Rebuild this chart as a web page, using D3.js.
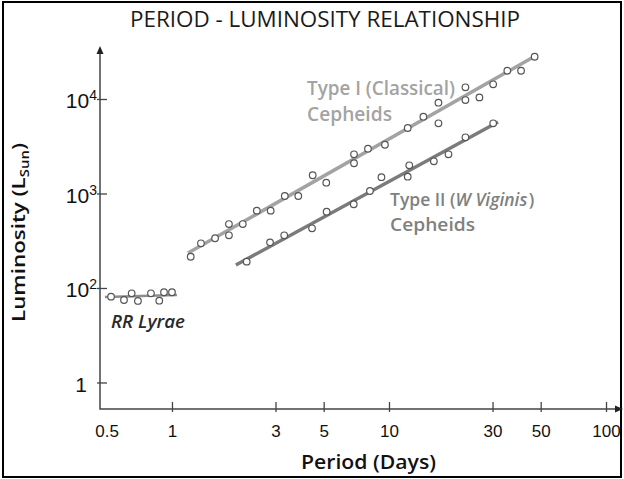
<!DOCTYPE html>
<html>
<head>
<meta charset="utf-8">
<script src="https://cdn.jsdelivr.net/npm/d3@7"></script>
<style>
  body { margin: 0; background: #fff; }
  svg { display: block; font-family: "Open Sans", "Noto Sans", sans-serif; }
</style>
</head>
<body>
<svg width="624" height="479"></svg>
<script>
// period-luminosity data
var periodTicks = [0.5, 1, 3, 5, 10, 30, 50, 100];
var lumTicks = [10, 100, 1000, 10000];
var lumTickLabels = [['1', ''], ['10', '2'], ['10', '3'], ['10', '4']];

var rrPeriod = [0.524, 0.601, 0.652, 0.697, 0.800, 0.874, 0.919, 1.0];
var rrLum = [81, 74.6, 87.9, 72.9, 87.9, 73.4, 90.1, 90.1];
var rrFit = [[0.491, 80.3], [1.054, 84.3]];

var type1Period = [1.22, 1.36, 1.58, 1.83, 1.83, 2.12, 2.46, 2.85, 3.31, 3.82, 4.45, 5.14, 6.9, 6.9, 8.0, 9.58,
  12.2, 14.4, 16.9, 16.9, 22.5, 22.5, 26.1, 30.2, 35.1, 40.6, 46.9];
var type1Lum = [214, 297, 336, 475, 361, 475, 658, 658, 941, 941, 1560, 1300, 2600, 2090, 2980, 3280,
  4930, 6500, 9140, 5530, 13300, 9750, 10400, 14300, 19900, 19900, 28000];
var type1Fit = [[1.185, 234], [48.1, 29200]];

var type2Period = [2.21, 2.83, 3.29, 4.42, 5.16, 6.88, 8.17, 9.23, 12.2, 12.4, 16.1, 18.8, 22.5, 30.2];
var type2Lum = [190, 304, 361, 428, 642, 769, 1062, 1488, 1506, 1988, 2192, 2600, 3930, 5530];
var type2Fit = [[1.97, 175], [31.8, 5710]];

var svg = d3.select('svg');

// frame
svg.append('rect')
  .attr('x', 3).attr('y', 2).attr('width', 618).attr('height', 475)
  .attr('fill', 'none').attr('stroke', '#000').attr('stroke-width', 2);

var x = d3.scaleLog().domain([0.466, 116]).range([100, 620]);
var y = d3.scaleLog().domain([5.24, 33000]).range([409, 50]);

var axisColor = '#444';

// x axis
var gx = svg.append('g').attr('transform', 'translate(0,409)')
  .call(d3.axisBottom(x).tickValues(periodTicks).tickFormat(d3.format('')).tickSize(0).tickPadding(16));
gx.select('.domain').remove();
gx.selectAll('.tick line').attr('y1', -7).attr('y2', 3).attr('stroke', axisColor).attr('stroke-width', 1.3);
gx.selectAll('.tick text').attr('font-size', 17).attr('fill', '#111').attr('font-family', null);
gx.selectAll('.tick').filter(function(d) { return d === 0.5; }).select('line').remove();

// y axis
var gy = svg.append('g').attr('transform', 'translate(100,0)')
  .call(d3.axisLeft(y).tickValues(lumTicks).tickSize(0).tickPadding(3));
gy.select('.domain').remove();
gy.selectAll('.tick line').attr('x1', -3).attr('x2', 7).attr('stroke', axisColor).attr('stroke-width', 1.3);
gy.selectAll('.tick text').each(function(d, i) {
  var lab = lumTickLabels[i];
  var t = d3.select(this).text('').attr('font-size', 21).attr('fill', '#111').attr('font-family', null)
    .attr('dy', '0.42em');
  if (!lab[1]) t.attr('x', -13);
  t.append('tspan').text(lab[0]);
  if (lab[1]) t.append('tspan').attr('font-size', 14).attr('dy', -8).text(lab[1]);
});

// axis lines with arrows
svg.append('path')
  .attr('d', 'M100,52 V409 H617')
  .attr('fill', 'none').attr('stroke', axisColor).attr('stroke-width', 1.5);
svg.append('path').attr('d', 'M100,46 L96.5,54 L103.5,54 Z').attr('fill', '#222');
svg.append('path').attr('d', 'M623,409 L615,405.5 L615,412.5 Z').attr('fill', '#222');

// fit lines
var line = d3.line().x(function(d) { return x(d[0]); }).y(function(d) { return y(d[1]); });
svg.append('path').attr('d', line(type1Fit)).attr('stroke', '#a3a3a3').attr('stroke-width', 3.5).attr('fill', 'none');
svg.append('path').attr('d', line(type2Fit)).attr('stroke', '#7b7b7b').attr('stroke-width', 3.5).attr('fill', 'none');
svg.append('path').attr('d', line(rrFit)).attr('stroke', '#8c8c8c').attr('stroke-width', 2.5).attr('fill', 'none');

// points
var drawPoints = function(ps, ls, cls) {
  svg.selectAll('circle.' + cls)
    .data(d3.zip(ps, ls))
    .enter().append('circle')
      .attr('class', cls)
      .attr('cx', function(d) { return x(d[0]); })
      .attr('cy', function(d) { return y(d[1]); })
      .attr('r', 3.3)
      .attr('fill', '#fff')
      .attr('stroke', '#555')
      .attr('stroke-width', 1.2);
};
drawPoints(rrPeriod, rrLum, 'rr');
drawPoints(type1Period, type1Lum, 't1');
drawPoints(type2Period, type2Lum, 't2');

// labels, squeezed to the narrow face of the original
var label = function(xp, yp, size, weight, fill, len) {
  var t = svg.append('text').attr('x', xp).attr('y', yp)
    .attr('font-size', size).attr('font-weight', weight).attr('fill', fill);
  if (len) t.attr('textLength', len).attr('lengthAdjust', 'spacingAndGlyphs');
  return t;
};

label(130, 27, 22, 400, '#1a1a1a', 390).text('PERIOD - LUMINOSITY RELATIONSHIP');

label(307, 95, 19, 600, '#a3a3a3', 148).text('Type I (Classical)');
label(307, 121, 19, 600, '#a3a3a3', 85).text('Cepheids');

var t2 = label(390, 206, 17.5, 600, '#808080');
t2.append('tspan').text('Type II (');
t2.append('tspan').attr('font-style', 'italic').text('W Viginis');
t2.append('tspan').attr('dx', 1.5).text(')');
label(390, 231, 18, 600, '#808080', 85).text('Cepheids');

label(111, 328, 18, 600, '#2a2a2a', 74).attr('font-style', 'italic').text('RR Lyrae');

var yl = svg.append('text').attr('transform', 'translate(25,143) rotate(-90)')
  .attr('x', -179).attr('y', 0)
  .attr('font-size', 18).attr('font-weight', 600).attr('fill', '#111')
  .attr('textLength', 179).attr('lengthAdjust', 'spacingAndGlyphs');
yl.append('tspan').text('Luminosity (L');
yl.append('tspan').attr('font-size', 12).attr('dy', 4).text('Sun');
yl.append('tspan').attr('dy', -4).text(')');

label(301, 469, 19, 600, '#111', 135).text('Period (Days)');
</script>
</body>
</html>
